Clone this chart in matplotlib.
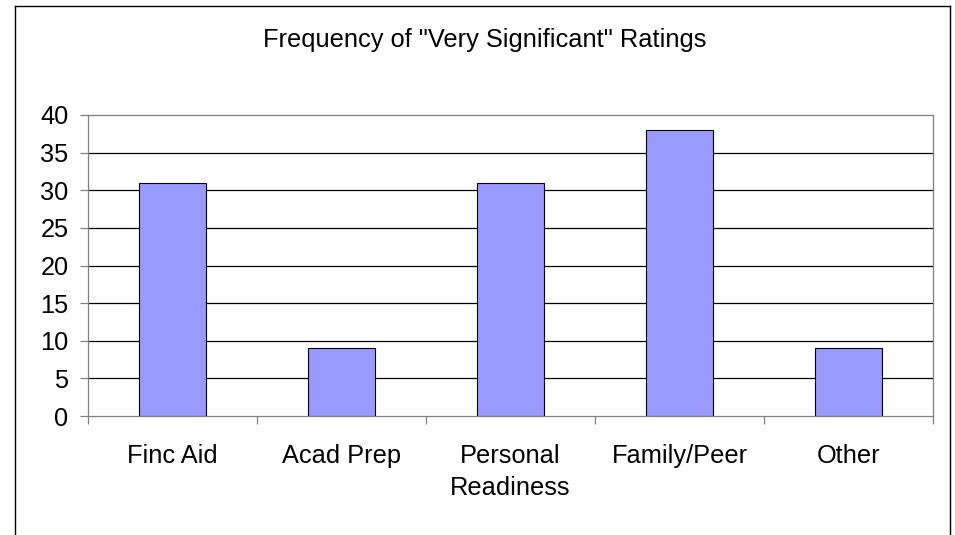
import matplotlib
matplotlib.use("Agg")
import matplotlib.pyplot as plt
from matplotlib.lines import Line2D
import numpy as np

plt.rcParams['font.family'] = ['Liberation Sans', 'DejaVu Sans']

title = 'Frequency of "Very Significant" Ratings'
categories = ["Finc Aid", "Acad Prep", "Personal\nReadiness", "Family/Peer", "Other"]
values = [31, 9, 31, 38, 9]
yticks = [0, 5, 10, 15, 20, 25, 30, 35, 40]

W, H = 955, 535
FS = 18.3
fig = plt.figure(figsize=(W / 100, H / 100), dpi=100)
ax = fig.add_axes([88 / W, 1 - 416 / H, (933 - 88) / W, (416 - 115) / H])

x = np.arange(len(categories))
ax.bar(x, values, width=0.4, color="#9999FF", edgecolor="black", linewidth=0.8, zorder=3)

ax.set_xlim(-0.5, len(categories) - 0.5)
ax.set_ylim(0, 40)
ax.set_yticks(yticks)
ax.set_yticklabels([str(v) for v in yticks], fontsize=FS)
for v in yticks[1:-1]:
    ax.axhline(v, color="black", linewidth=0.9, zorder=1)

ax.set_xticks(np.arange(-0.5, len(categories), 1.0))
ax.set_xticklabels([])
ax.set_xticks(x, minor=True)
ax.set_xticklabels(categories, minor=True, fontsize=FS, linespacing=1.42)
ax.tick_params(axis="x", which="minor", length=0, pad=20)
ax.tick_params(axis="x", which="major", length=6, color="#808080", width=0.9)
ax.tick_params(axis="y", length=6, color="#808080", width=0.9, pad=8)

for s in ["left", "bottom", "top", "right"]:
    ax.spines[s].set_color("#808080")
    ax.spines[s].set_linewidth(0.9)

fig.text(485 / W, 1 - 40 / H, title, ha="center", va="center", fontsize=FS)

# outer chart border
fig.add_artist(Line2D([15 / W, 15 / W], [0, 1 - 6 / H], color="black", linewidth=1.0))
fig.add_artist(Line2D([950 / W, 950 / W], [0, 1 - 6 / H], color="black", linewidth=1.0))
fig.add_artist(Line2D([15 / W, 950 / W], [1 - 6 / H, 1 - 6 / H], color="black", linewidth=1.0))

fig.savefig("out.png", dpi=100)
